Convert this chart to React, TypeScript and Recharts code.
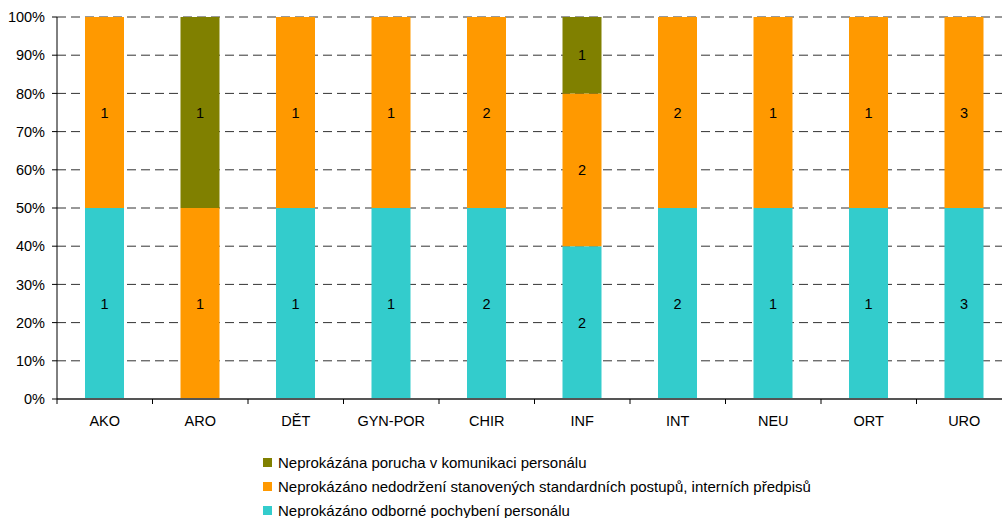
import React from 'react';
import { BarChart, Bar, XAxis, YAxis, CartesianGrid, LabelList } from 'recharts';

const categories = ['AKO', 'ARO', 'DĚT', 'GYN-POR', 'CHIR', 'INF', 'INT', 'NEU', 'ORT', 'URO'];
const odborne = [1, 0, 1, 1, 2, 2, 2, 1, 1, 3];
const postupy = [1, 1, 1, 1, 2, 2, 2, 1, 1, 3];
const komunikace = [0, 1, 0, 0, 0, 1, 0, 0, 0, 0];
const yTicks = [0, 0.1, 0.2, 0.3, 0.4, 0.5, 0.6, 0.7, 0.8, 0.9, 1];

const seriesNames = {
  komunikace: 'Neprokázána porucha v komunikaci personálu',
  postupy: 'Neprokázáno nedodržení stanovených standardních postupů, interních předpisů',
  odborne: 'Neprokázáno odborné pochybení personálu',
};
const colors = { odborne: '#33CCCC', postupy: '#FF9900', komunikace: '#808000' };

const data = categories.map((c, i) => ({
  name: c,
  odborne: odborne[i],
  postupy: postupy[i],
  komunikace: komunikace[i],
}));

const FONT = '"Liberation Sans", Arial, sans-serif';
const VIEW_W = 1002;
const W = 1012;
const H = 518;
const margin = { top: 17, right: 0, left: 0, bottom: 89 };
const yWidth = 57;
const AXIS_FS = 14.5;

const XTick = (props: any) => {
  const { x, y, payload } = props;
  const half = (W - margin.left - margin.right - yWidth) / categories.length / 2;
  return (
    <g>
      <line x1={x - half} y1={y - 8} x2={x - half} y2={y - 3} stroke="#000" strokeWidth={1} />
      <text x={x} y={y + 19} textAnchor="middle" fontSize={AXIS_FS} fontFamily={FONT} fill="#000">
        {payload.value}
      </text>
    </g>
  );
};

const renderLabel = (props: any) => {
  const { x, y, width, height, value } = props;
  const v = Number(value);
  if (!v) return null;
  return (
    <text
      x={x + width / 2}
      y={y + height / 2}
      dy={5}
      textAnchor="middle"
      fontSize={AXIS_FS}
      fontFamily={FONT}
      fill="#000"
    >
      {v}
    </text>
  );
};

const legendOrder: Array<'komunikace' | 'postupy' | 'odborne'> = ['komunikace', 'postupy', 'odborne'];

export default function App() {
  return (
    <div style={{ position: 'absolute', left: 0, top: 0, width: VIEW_W, height: H, background: '#fff', overflow: 'hidden' }}>
      <BarChart width={W} height={H} data={data} margin={margin} stackOffset="expand" barSize={39}>
        <CartesianGrid
          horizontal={true}
          vertical={false}
          stroke="#333"
          strokeDasharray="9 5"
        />
        <XAxis
          dataKey="name"
          height={30}
          tick={<XTick />}
          tickLine={false}
          axisLine={{ stroke: '#555', strokeWidth: 2 }}
          interval={0}
        />
        <YAxis
          width={yWidth}
          ticks={yTicks}
          domain={[0, 1]}
          tickFormatter={(v: number) => `${Math.round(v * 100)}%`}
          tick={{ fontSize: AXIS_FS, fontFamily: FONT, fill: '#000' }}
          tickLine={{ stroke: '#000' }}
          tickSize={5}
          tickMargin={7}
          axisLine={{ stroke: '#000' }}
          interval={0}
        />
        <Bar dataKey="odborne" stackId="a" fill={colors.odborne} isAnimationActive={false}>
          <LabelList dataKey="odborne" content={renderLabel} />
        </Bar>
        <Bar dataKey="postupy" stackId="a" fill={colors.postupy} isAnimationActive={false}>
          <LabelList dataKey="postupy" content={renderLabel} />
        </Bar>
        <Bar dataKey="komunikace" stackId="a" fill={colors.komunikace} isAnimationActive={false}>
          <LabelList dataKey="komunikace" content={renderLabel} />
        </Bar>
      </BarChart>
      <div style={{ position: 'absolute', left: 263, top: 450, fontFamily: FONT, fontSize: 15, color: '#000' }}>
        {legendOrder.map((k) => (
          <div key={k} style={{ display: 'flex', alignItems: 'center', height: 24 }}>
            <span style={{ display: 'inline-block', width: 9, height: 9, background: colors[k], marginRight: 6 }} />
            <span>{seriesNames[k]}</span>
          </div>
        ))}
      </div>
    </div>
  );
}
